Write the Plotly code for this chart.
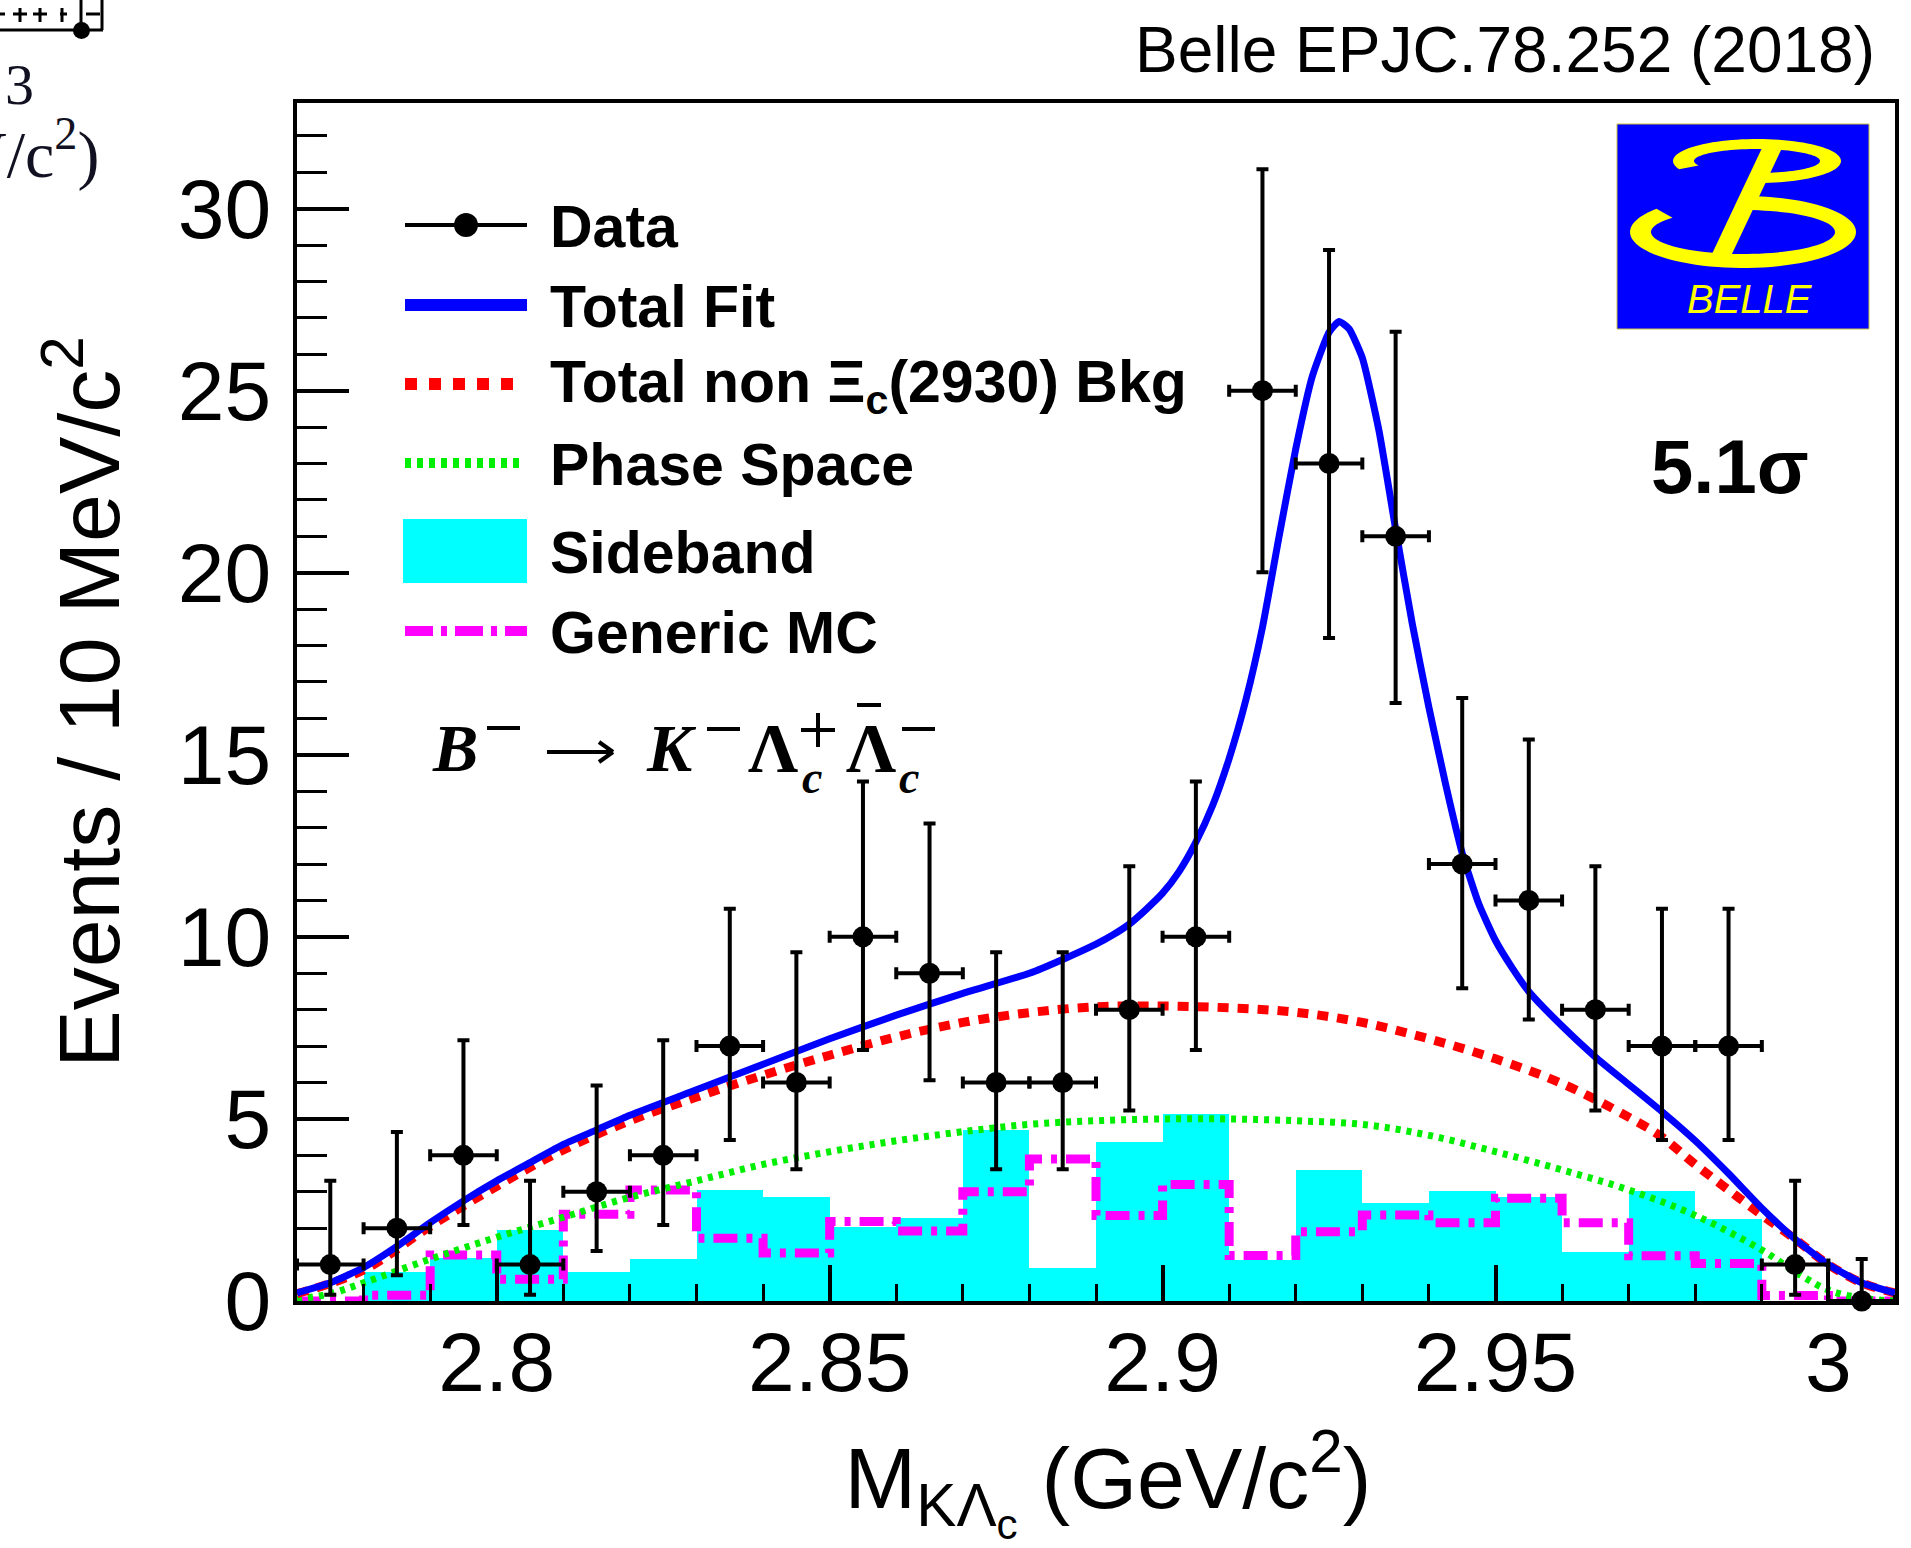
import numpy as np
import plotly.graph_objects as go

# ---------------- data ----------------
bin_edges = [2.77, 2.78, 2.79, 2.80, 2.81, 2.82, 2.83, 2.84, 2.85, 2.86, 2.87, 2.88,
             2.89, 2.90, 2.91, 2.92, 2.93, 2.94, 2.95, 2.96, 2.97, 2.98, 2.99, 3.00, 3.01]
bin_centers = [2.775, 2.785, 2.795, 2.805, 2.815, 2.825, 2.835, 2.845, 2.855, 2.865,
               2.875, 2.885, 2.895, 2.905, 2.915, 2.925, 2.935, 2.945, 2.955, 2.965,
               2.975, 2.985, 2.995, 3.005]
data_counts = [1, 2, 4, 1, 3, 4, 7, 6, 10, 9, 6, 6, 8, 10, 25, 23, 21, 12, 11, 8, 7, 7, 1, 0]
err_up = [2.30, 2.64, 3.16, 2.30, 2.92, 3.16, 3.77, 3.58, 4.27, 4.11, 3.58, 3.58,
          3.94, 4.27, 6.08, 5.86, 5.62, 4.56, 4.42, 3.94, 3.77, 3.77, 2.30, 1.15]
err_lo = [0.83, 1.29, 1.91, 0.83, 1.63, 1.91, 2.58, 2.38, 3.11, 2.94, 2.38, 2.38,
          2.77, 3.11, 4.99, 4.79, 4.58, 3.41, 3.27, 2.77, 2.58, 2.58, 0.83, 0.0]
bin_half_width = [0.005] * 24

sideband = [0.0, 0.79, 1.17, 1.96, 0.79, 1.16, 3.05, 2.85, 2.04, 2.27, 4.70, 0.92,
            4.36, 5.13, 1.12, 3.60, 2.68, 3.02, 2.85, 1.35, 3.02, 2.24, 0.0, 0.0]
generic_mc = [0.0, 0.16, 1.26, 0.60, 2.38, 3.05, 1.72, 1.32, 2.18, 1.92, 3.00, 3.90,
              2.35, 3.20, 1.25, 1.90, 2.36, 2.15, 2.82, 2.15, 1.24, 1.03, 0.15, 0.0]

fit_x = [2.77, 2.775, 2.78, 2.785, 2.79, 2.795, 2.80, 2.805, 2.81, 2.815, 2.82, 2.83,
         2.84, 2.85, 2.86, 2.87, 2.88, 2.885, 2.89, 2.8925, 2.895, 2.8975, 2.90, 2.9025,
         2.905, 2.9075, 2.91, 2.9125, 2.915, 2.9175, 2.92, 2.9225, 2.925, 2.9265, 2.928,
         2.93, 2.9325, 2.935, 2.9375, 2.94, 2.9425, 2.945, 2.9475, 2.95, 2.9525, 2.955,
         2.96, 2.965, 2.97, 2.975, 2.98, 2.985, 2.99, 2.995, 3.0, 3.005, 3.01]
fit_y = [0.22, 0.5, 0.92, 1.5, 2.15, 2.75, 3.3, 3.8, 4.3, 4.7, 5.1, 5.8,
         6.5, 7.2, 7.85, 8.45, 9.0, 9.38, 9.8, 10.05, 10.35, 10.75, 11.2, 11.8,
         12.6, 13.6, 14.9, 16.5, 18.5, 21.0, 23.4, 25.4, 26.6, 26.9, 26.7,
         25.9, 23.9, 21.2, 18.6, 16.3, 14.2, 12.3, 10.9, 9.9, 9.15, 8.5,
         7.55, 6.7, 5.95, 5.2, 4.4, 3.5, 2.55, 1.7, 1.0, 0.5, 0.22]

bkg_x = [2.77, 2.78, 2.79, 2.80, 2.81, 2.82, 2.83, 2.84, 2.85, 2.86, 2.87, 2.88, 2.89,
         2.90, 2.91, 2.92, 2.93, 2.94, 2.95, 2.96, 2.97, 2.975, 2.98, 2.985, 2.99,
         2.995, 3.0, 3.005, 3.01]
bkg_y = [0.2, 0.85, 2.05, 3.15, 4.15, 4.95, 5.6, 6.2, 6.75, 7.25, 7.65, 7.92, 8.08,
         8.1, 8.05, 7.93, 7.65, 7.2, 6.65, 5.97, 5.05, 4.5, 3.75, 3.05, 2.36,
         1.7, 1.0, 0.5, 0.22]

ps_x = [2.77, 2.775, 2.78, 2.79, 2.80, 2.81, 2.82, 2.83, 2.84, 2.85, 2.86, 2.87, 2.88,
        2.89, 2.90, 2.91, 2.92, 2.93, 2.94, 2.95, 2.96, 2.97, 2.98, 2.99, 2.995, 3.0,
        3.005, 3.01]
ps_y = [0.05, 0.2, 0.5, 1.15, 1.75, 2.3, 2.85, 3.3, 3.75, 4.1, 4.4, 4.65, 4.85,
        4.95, 5.0, 5.0, 4.95, 4.85, 4.55, 4.1, 3.6, 3.05, 2.35, 1.4, 0.8, 0.3,
        0.08, 0.0]

x_tickvals = [2.8, 2.85, 2.9, 2.95, 3.0]
x_ticktext = ["2.8", "2.85", "2.9", "2.95", "3"]
y_tickvals = [0, 5, 10, 15, 20, 25, 30]
y_ticktext = ["0", "5", "10", "15", "20", "25", "30"]

legend_labels = ["Data", "Total Fit", "Total non \u039e<sub>c</sub>(2930) Bkg",
                 "Phase Space", "Sideband", "Generic MC"]

# ---------------- geometry (pixels) ----------------
W, H = 1911, 1548
L, R, T, B = 297, 1895, 103, 1301


def px(xp):
    return (xp - L) / (R - L)


def py(yp):
    return (B - yp) / (B - T)


SANS = "Liberation Sans, Arial, Helvetica, sans-serif"
SERIF = "Liberation Serif, Times New Roman, serif"

fig = go.Figure()

# sideband histogram
fig.add_trace(go.Bar(x=bin_centers, y=sideband, width=[0.01] * 24,
                     marker=dict(color="#00ffff", line=dict(width=0)),
                     showlegend=False, hoverinfo="skip"))

# generic MC step histogram
fig.add_trace(go.Scatter(x=bin_edges, y=generic_mc + [generic_mc[-1]], mode="lines",
                         line=dict(color="#ff00ff", width=9, shape="hv",
                                   dash="24px,9px,6px,9px"),
                         cliponaxis=False, showlegend=False))

# phase space
fig.add_trace(go.Scatter(x=ps_x, y=ps_y, mode="lines",
                         line=dict(color="#00ee00", width=7, shape="spline",
                                   dash="5px,6px"),
                         showlegend=False))
# total non-Xi_c background
fig.add_trace(go.Scatter(x=bkg_x, y=bkg_y, mode="lines",
                         line=dict(color="#ff0000", width=9, shape="spline",
                                   dash="11px,9px"),
                         showlegend=False))
# total fit
fig.add_trace(go.Scatter(x=fit_x, y=fit_y, mode="lines",
                         line=dict(color="#0000ff", width=7, shape="spline", smoothing=0.5),
                         showlegend=False))
# data
fig.add_trace(go.Scatter(x=bin_centers, y=data_counts, mode="markers",
                         marker=dict(color="black", size=21),
                         error_y=dict(type="data", symmetric=False, array=err_up,
                                      arrayminus=err_lo, color="black", thickness=4, width=6),
                         error_x=dict(type="data", array=bin_half_width, color="black",
                                      thickness=4, width=6),
                         cliponaxis=False, showlegend=False))

shapes = []
annotations = []


def seg(x0, y0, x1, y1, color="black", width=4, dash=None):
    ln = dict(color=color, width=width)
    if dash:
        ln["dash"] = dash
    shapes.append(dict(type="line", xref="paper", yref="paper", x0=px(x0), x1=px(x1),
                       y0=py(y0), y1=py(y1), line=ln))


def txt(x, y, s, size, anchor="left", family=SERIF, color="black"):
    annotations.append(dict(x=px(x), y=py(y), xref="paper", yref="paper", text=s,
                            showarrow=False, xanchor=anchor, yanchor="middle",
                            font=dict(family=family, size=size, color=color)))


# ---------------- legend (drawn) ----------------
rows = [225, 305, 384, 463, 551, 631]
sx0, sx1, tx = 405, 527, 548
seg(sx0, rows[0], sx1, rows[0], "black", 4)
shapes.append(dict(type="circle", xref="paper", yref="paper", x0=px(454), x1=px(478),
                   y0=py(rows[0] + 12), y1=py(rows[0] - 12), fillcolor="black",
                   line=dict(color="black", width=0)))
seg(sx0, rows[1], sx1, rows[1], "#0000ff", 12)
seg(sx0, rows[2], sx1 - 10, rows[2], "#ff0000", 12, "12px,12px")
seg(sx0, rows[3], sx1 - 6, rows[3], "#00ee00", 10, "6px,6px")
shapes.append(dict(type="rect", xref="paper", yref="paper", x0=px(403), x1=px(527),
                   y0=py(583), y1=py(519), fillcolor="#00ffff", line=dict(width=0)))
seg(sx0, rows[5], sx1, rows[5], "#ff00ff", 10, "28px,8px,6px,8px")
for r, lab in zip(rows, legend_labels):
    txt(tx, r + 2, "<b>%s</b>" % lab, 59, family=SANS)

# ---------------- reaction text ----------------
txt(430, 748, "<b><i>B</i></b>", 68)
seg(487, 728, 520, 728)                       # B minus
seg(547, 752, 612, 752)                       # arrow shaft
seg(599, 742, 613, 752)
seg(599, 762, 613, 752)
txt(644, 748, "<b><i>K</i></b>", 68)
seg(707, 729, 740, 729)                       # K minus
txt(746, 748, "<b>\u039b</b>", 70)
seg(801, 730, 835, 730)                       # plus
seg(818, 713, 818, 747)
txt(800, 777, "<b><i>c</i></b>", 46)
txt(844, 748, "<b>\u039b</b>", 70)
seg(857, 705, 881, 705)                       # bar
seg(902, 729, 935, 729)                       # minus
txt(897, 777, "<b><i>c</i></b>", 46)

# ---------------- other texts ----------------
txt(1877, 50, "Belle EPJC.78.252 (2018)", 64, anchor="right", family=SANS)
txt(1730, 466, "<b>5.1\u03c3</b>", 76, anchor="center", family=SANS)

# ---------------- Belle logo ----------------
def poly(points):
    return "M " + " L ".join("%.5f,%.5f" % (px(a), py(b)) for a, b in points) + " Z"


def ring(cx, cy, rxo, ryo, rxi, ryi, t0, t1, n=80):
    t = np.radians(np.linspace(t0, t1, n))
    outer = [(cx + rxo * np.cos(a), cy - ryo * np.sin(a)) for a in t]
    inner = [(cx + rxi * np.cos(a), cy - ryi * np.sin(a)) for a in t[::-1]]
    return outer + inner

shapes.append(dict(type="rect", xref="paper", yref="paper", x0=px(1617), x1=px(1869),
                   y0=py(329), y1=py(124), fillcolor="#0000ff",
                   line=dict(color="#c8c040", width=1)))
shapes.append(dict(type="path", xref="paper", yref="paper",
                   path=poly(ring(1757, 161, 84, 22, 63, 12, -85, 202)),
                   fillcolor="#ffff00", line=dict(width=0)))
shapes.append(dict(type="path", xref="paper", yref="paper",
                   path=poly(ring(1743, 232, 113, 36, 92, 22, 140, 448)),
                   fillcolor="#ffff00", line=dict(width=0)))
shapes.append(dict(type="path", xref="paper", yref="paper",
                   path=poly([(1762, 148), (1782, 148), (1731, 256), (1711, 256)]),
                   fillcolor="#ffff00", line=dict(width=0)))
txt(1750, 299, "<i>BELLE</i>", 40, anchor="center", family=SANS, color="#ffff00")

# ---------------- corner fragments ----------------
txt(3, 84, "3", 58, family=SERIF, color="#111122")
txt(101, 150, "V/c<sup>2</sup>)", 66, anchor="right", family=SERIF, color="#111122")
seg(-5, 30, 103, 30, "black", 3)
seg(102, -5, 102, 30, "black", 3)
seg(81, 0, 81, 30, "black", 3)
shapes.append(dict(type="circle", xref="paper", yref="paper", x0=px(73), x1=px(90),
                   y0=py(39), y1=py(22), fillcolor="black", line=dict(width=0)))
for a, b in [(0, 5), (13, 27), (33, 47), (60, 67), (86, 100)]:
    seg(a, 14, b, 14, "black", 3)
for a in [20, 40, 62]:
    seg(a, 8, a, 22, "black", 3)

axis_common = dict(showgrid=False, zeroline=False, showline=True, linecolor="black",
                   linewidth=4, mirror=True, ticks="inside", tickcolor="black",
                   tickfont=dict(family=SANS, size=84, color="black"))

fig.update_layout(
    width=W, height=H,
    margin=dict(l=L, r=W - R, t=T, b=H - B, pad=0),
    paper_bgcolor="white", plot_bgcolor="white",
    bargap=0, showlegend=False,
    font=dict(family=SANS, color="black"),
    shapes=shapes, annotations=annotations,
    xaxis=dict(range=[2.77, 3.01], tickvals=x_tickvals, ticktext=x_ticktext,
               ticklen=36, tickwidth=4, ticklabelstandoff=-15,
               minor=dict(ticks="inside", dtick=0.01, tick0=2.77, ticklen=17,
                          tickwidth=3, tickcolor="black"),
               title=dict(text="&nbsp;M<sub>K\u039b<sub>c</sub></sub> (GeV/c<sup>2</sup>)",
                          font=dict(family=SANS, size=86, color="black"), standoff=53),
               **axis_common),
    yaxis=dict(range=[0, 32.9], tickvals=y_tickvals, ticktext=y_ticktext,
               ticklen=52, tickwidth=4, ticklabelstandoff=5,
               minor=dict(ticks="inside", dtick=1, tick0=0, ticklen=30,
                          tickwidth=3, tickcolor="black"),
               title=dict(text="Events / 10 MeV/c<sup>2</sup>",
                          font=dict(family=SANS, size=86, color="black"), standoff=31),
               **axis_common),
)

fig.write_html("out.html", config={"displayModeBar": False},
               post_script="document.body.style.margin='0';document.body.style.overflow='hidden';")
